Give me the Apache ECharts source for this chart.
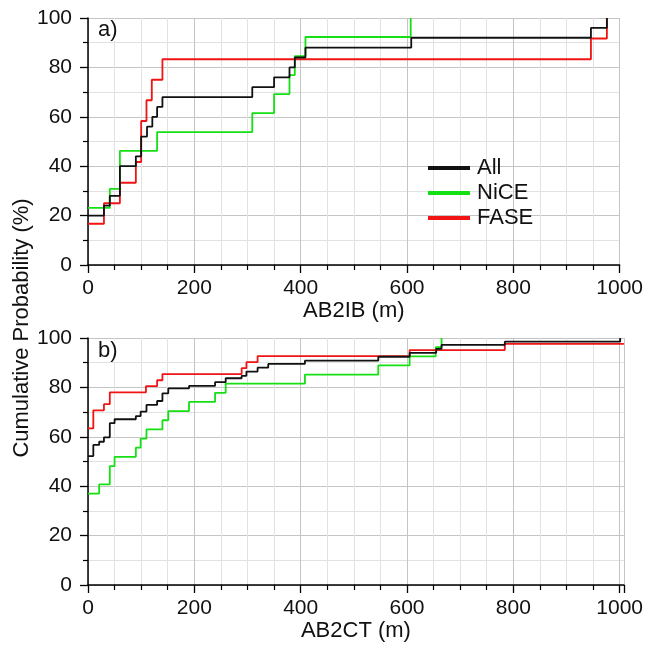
<!DOCTYPE html>
<html>
<head>
<meta charset="utf-8">
<script src="https://cdn.jsdelivr.net/npm/echarts@6/dist/echarts.min.js"></script>
<style>html,body{margin:0;padding:0;background:#fff;}#c{width:646px;height:654px;}</style>
</head>
<body>
<div id="c"></div>
<script>
// ---- Data ----
// Panel a) AB2IB (m)
var allA_x  = [0, 30, 41, 60, 90, 100, 111, 121, 130, 140, 309, 350, 379, 389, 409, 608, 946, 976];
var allA_p  = [20, 24, 28, 40, 44, 52, 56, 60, 64, 68, 72, 76, 80, 84, 88, 92, 96, 100];
var niceA_x = [0, 41, 60, 130, 309, 350, 379, 389, 409, 607];
var niceA_p = [23.1, 30.8, 46.2, 53.8, 61.5, 69.2, 76.9, 84.6, 92.3, 100];
var faseA_x = [0, 30, 60, 90, 100, 110, 120, 140, 946, 976];
var faseA_p = [16.7, 25, 33.3, 41.7, 58.3, 66.7, 75, 83.3, 91.7, 100];
// Panel b) AB2CT (m)
var allB_x  = [0, 10, 21, 30, 41, 50, 90, 99, 110, 130, 140, 151, 190, 239, 259, 289, 298, 319, 339, 408, 546, 605, 655, 665, 784, 1001];
var allB_p  = [52.2, 56.7, 58, 59.8, 65.5, 67.1, 68.4, 70.2, 72.9, 74.5, 77.6, 79.6, 80.6, 82.1, 83.7, 84.7, 86.4, 88, 89.5, 90.8, 92.4, 94, 95.6, 97.2, 98.5, 100];
var niceB_x = [0, 21, 41, 50, 90, 99, 110, 140, 151, 190, 239, 259, 408, 546, 605, 654, 665];
var niceB_p = [37.0, 40.7, 48.1, 51.9, 55.6, 59.3, 63.0, 66.7, 70.4, 74.1, 77.8, 81.5, 85.2, 88.9, 92.6, 96.3, 100];
var faseB_x = [0, 10, 30, 41, 109, 130, 140, 289, 298, 319, 605, 784, 1008];
var faseB_p = [63.4, 70.7, 73.2, 78.0, 80.5, 82.9, 85.4, 87.8, 90.2, 92.7, 95.1, 97.6, 97.6];

var seriesNames = ['All', 'NiCE', 'FASE'];
var yTicks = [0, 20, 40, 60, 80, 100];
var xTicks = [0, 200, 400, 600, 800, 1000];
var xTitleA = 'AB2IB (m)';
var xTitleB = 'AB2CT (m)';
var yTitle = 'Cumulative Probability (%)';

function pairs(xs, ps) { return xs.map(function (x, i) { return [x, ps[i]]; }); }

var FONT = '"Liberation Sans", Arial, sans-serif';
var colors = { All: '#111111', NiCE: '#14e014', FASE: '#f01414' };

function xAxis(gi, max, name) {
  return {
    type: 'value', gridIndex: gi, min: 0, max: max, interval: 200,
    name: name, nameLocation: 'middle', nameGap: 35,
    nameTextStyle: { fontFamily: FONT, fontSize: 22, color: '#111' },
    axisLine: { show: true, onZero: false, lineStyle: { color: '#000', width: 1.5 } },
    axisTick: { show: true, length: 8, lineStyle: { color: '#000', width: 1.3 } },
    minorTick: { show: true, splitNumber: 4, length: 5, lineStyle: { color: '#000', width: 1.2 } },
    axisLabel: { fontFamily: FONT, fontSize: 21, color: '#111', margin: 13,
      formatter: function (v) { return xTicks.indexOf(v) >= 0 ? String(v) : ''; } },
    splitLine: { show: true, lineStyle: { color: '#c4c4c4', width: 1 } },
    minorSplitLine: { show: true, lineStyle: { color: '#e2e2e2', width: 1 } }
  };
}
function yAxis(gi) {
  return {
    type: 'value', gridIndex: gi, min: 0, max: 100, interval: 20,
    axisLine: { show: true, lineStyle: { color: '#000', width: 1.5 } },
    axisTick: { show: true, length: 8, lineStyle: { color: '#000', width: 1.3 } },
    minorTick: { show: true, splitNumber: 2, length: 5, lineStyle: { color: '#000', width: 1.2 } },
    axisLabel: { fontFamily: FONT, fontSize: 21, color: '#111', margin: 16,
      formatter: function (v) { return yTicks.indexOf(v) >= 0 ? String(v) : ''; } },
    splitLine: { show: true, lineStyle: { color: '#c4c4c4', width: 1 } },
    minorSplitLine: { show: true, lineStyle: { color: '#e2e2e2', width: 1 } }
  };
}
function stepSeries(name, gi, xs, ps, z) {
  return {
    name: name, type: 'line', step: 'end', xAxisIndex: gi, yAxisIndex: gi,
    data: pairs(xs, ps), showSymbol: false, symbol: 'none', z: z,
    lineStyle: { color: colors[name], width: 1.8 }, itemStyle: { color: colors[name] },
    animation: false, clip: true
  };
}

var chart = echarts.init(document.getElementById('c'), null, { renderer: 'canvas' });
chart.setOption({
  backgroundColor: '#fff',
  animation: false,
  grid: [
    { left: 88, top: 18, width: 533, height: 247 },
    { left: 88, top: 338, width: 536, height: 247 }
  ],
  xAxis: [xAxis(0, 1000, xTitleA), xAxis(1, 1008, xTitleB)],
  yAxis: [yAxis(0), yAxis(1)],
  legend: {
    data: seriesNames, orient: 'vertical', left: 423, top: 152,
    icon: 'rect', itemWidth: 42, itemHeight: 4, itemGap: 3,
    selectedMode: false,
    textStyle: { fontFamily: FONT, fontSize: 22, color: '#111', lineHeight: 22, padding: [0, 0, 0, 2] }
  },
  graphic: [
    { type: 'text', left: 96, top: 19, z: 100,
      style: { text: 'a)', font: '22px ' + FONT, fill: '#111', backgroundColor: '#fff', padding: [0, 2, 0, 2] } },
    { type: 'text', left: 96, top: 340, z: 100,
      style: { text: 'b)', font: '22px ' + FONT, fill: '#111', backgroundColor: '#fff', padding: [0, 2, 0, 2] } },
    { type: 'text', x: 22, y: 328, rotation: Math.PI / 2,
      style: { text: yTitle, font: '22px ' + FONT, fill: '#111', align: 'center', verticalAlign: 'middle' } }
  ],
  series: [
    stepSeries('NiCE', 0, niceA_x, niceA_p, 2),
    stepSeries('FASE', 0, faseA_x, faseA_p, 3),
    stepSeries('All', 0, allA_x, allA_p, 4),
    stepSeries('NiCE', 1, niceB_x, niceB_p, 2),
    stepSeries('FASE', 1, faseB_x, faseB_p, 3),
    stepSeries('All', 1, allB_x, allB_p, 4)
  ]
});
</script>
</body>
</html>
